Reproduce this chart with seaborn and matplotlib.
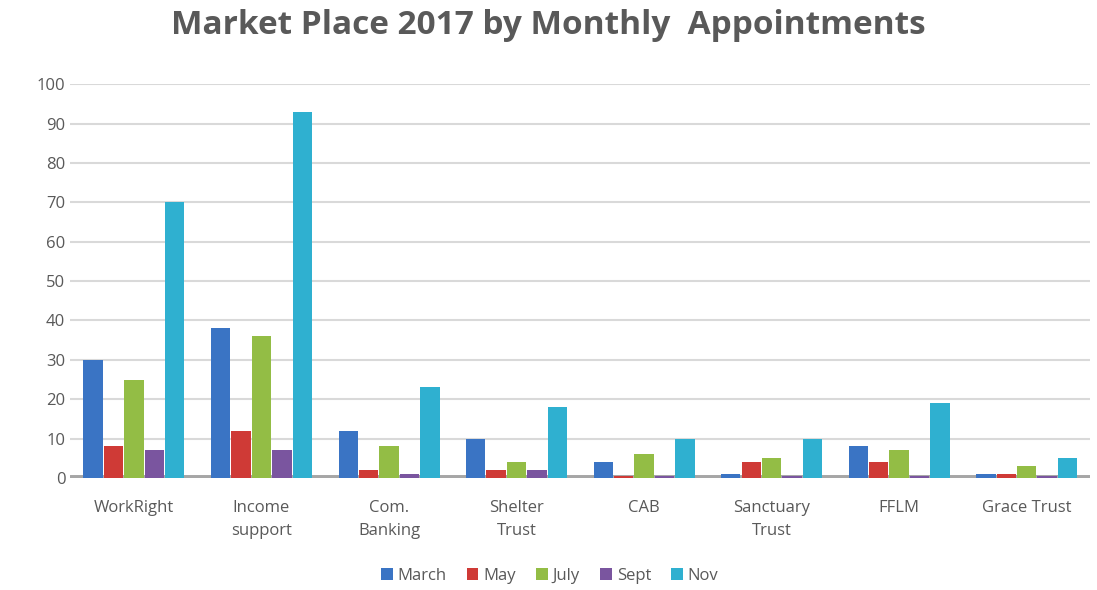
import pandas as pd
import matplotlib.pyplot as plt
import seaborn as sns

# data
categories = ["WorkRight", "Income\nsupport", "Com.\nBanking", "Shelter\nTrust",
              "CAB", "Sanctuary\nTrust", "FFLM", "Grace Trust"]
months = ["March", "May", "July", "Sept", "Nov"]
march = [30, 38, 12, 10, 4, 1, 8, 1]
may = [8, 12, 2, 2, 0.5, 4, 4, 1]
july = [25, 36, 8, 4, 6, 5, 7, 3]
sept = [7, 7, 1, 2, 0.5, 0.5, 0.5, 0.5]
nov = [70, 93, 23, 18, 10, 10, 19, 5]

colors = ["#3a74c4", "#cf3a36", "#93bd45", "#7a559f", "#2fb0d0"]

rows = []
for m, vals in zip(months, [march, may, july, sept, nov]):
    for c, v in zip(categories, vals):
        rows.append({"category": c, "month": m, "value": v})
df = pd.DataFrame(rows)

sns.set_style("white")
plt.rcParams["font.family"] = ["Open Sans", "DejaVu Sans"]
text_col = "#595959"

fig = plt.figure(figsize=(10.97, 5.9), dpi=100)
ax = fig.add_axes([0.064, 0.19, 0.93, 0.667])

sns.barplot(data=df, x="category", y="value", hue="month", palette=colors,
            saturation=1, width=0.8, gap=0.05, edgecolor="none", ax=ax, zorder=3)

ax.set_ylim(0, 100)
ax.set_yticks(range(0, 101, 10))
ax.yaxis.grid(True, color="#d9d9d9", linewidth=1.5, zorder=0)
ax.axhline(0, color="#a6a6a6", linewidth=5, zorder=2)
for s in ax.spines.values():
    s.set_visible(False)
ax.set_xlabel("")
ax.set_ylabel("")
ax.tick_params(axis="both", length=0, labelsize=12, labelcolor=text_col)
ax.tick_params(axis="x", pad=16)
for lbl in ax.get_xticklabels():
    lbl.set_linespacing(1.6)

ax.legend(loc="upper center", bbox_to_anchor=(0.47, -0.19), ncol=5, frameon=False,
          fontsize=12, labelcolor=text_col, handlelength=0.7, handleheight=0.7,
          handletextpad=0.3, columnspacing=1.2)

fig.suptitle("Market Place 2017 by Monthly  Appointments", y=0.985,
             fontsize=24, fontweight="bold", color=text_col)

fig.savefig("out.png", dpi=100)
